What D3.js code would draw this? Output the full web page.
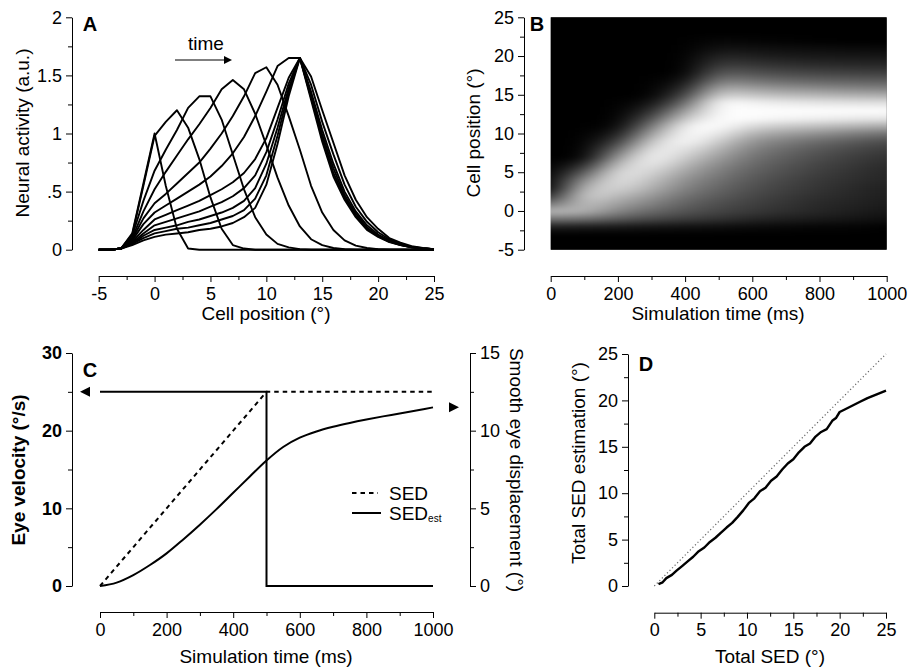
<!DOCTYPE html>
<html>
<head>
<meta charset="utf-8">
<script src="https://cdn.jsdelivr.net/npm/d3@7"></script>
<style>
  body { margin: 0; background: #fff; }
  svg { display: block; font-family: "Liberation Sans", Arial, Helvetica, sans-serif; }
</style>
</head>
<body>
<div id="app"></div>
<script>
// ---- panel A / B data: activity profiles, one per 100 ms snapshot ----
const cellPositions = [-5, -4, -3, -2, -1, 0, 1, 2, 3, 4, 5, 6, 7, 8, 9, 10, 11, 12, 13, 14, 15, 16, 17, 18, 19, 20, 21, 22, 23, 24, 25];
const snapshotTimes = [0, 100, 200, 300, 400, 500, 600, 700, 800, 900, 1000];

const act0 = [0, 0, 0.01, 0.14, 0.57, 1.0, 0.55, 0.18, 0.01, 0, 0, 0, 0, 0, 0, 0, 0, 0, 0, 0, 0, 0, 0, 0, 0, 0, 0, 0, 0, 0, 0];
const act100 = [0, 0, 0.01, 0.13, 0.55, 0.98, 1.1, 1.2, 1.05, 0.78, 0.45, 0.18, 0.04, 0.01, 0, 0, 0, 0, 0, 0, 0, 0, 0, 0, 0, 0, 0, 0, 0, 0, 0];
const act200 = [0, 0, 0.01, 0.12, 0.42, 0.68, 0.86, 1.03, 1.22, 1.32, 1.32, 1.12, 0.82, 0.52, 0.28, 0.13, 0.05, 0.02, 0.005, 0, 0, 0, 0, 0, 0, 0, 0, 0, 0, 0, 0];
const act300 = [0, 0, 0.01, 0.1, 0.33, 0.52, 0.67, 0.81, 0.95, 1.08, 1.22, 1.38, 1.46, 1.38, 1.17, 0.9, 0.62, 0.38, 0.2, 0.09, 0.04, 0.015, 0.005, 0, 0, 0, 0, 0, 0, 0, 0];
const act400 = [0, 0, 0.01, 0.09, 0.27, 0.4, 0.48, 0.57, 0.66, 0.75, 0.87, 1.0, 1.15, 1.32, 1.52, 1.57, 1.42, 1.15, 0.86, 0.55, 0.32, 0.17, 0.08, 0.035, 0.015, 0.005, 0, 0, 0, 0, 0];
const act500 = [0, 0, 0.01, 0.08, 0.22, 0.32, 0.38, 0.44, 0.5, 0.56, 0.63, 0.72, 0.83, 0.97, 1.15, 1.36, 1.58, 1.65, 1.65, 1.49, 1.2, 0.92, 0.64, 0.43, 0.28, 0.18, 0.1, 0.06, 0.03, 0.015, 0.005];
const act600 = [0, 0, 0.01, 0.07, 0.17, 0.26, 0.3, 0.34, 0.38, 0.42, 0.47, 0.52, 0.58, 0.66, 0.78, 0.96, 1.22, 1.48, 1.65, 1.42, 1.1, 0.82, 0.56, 0.37, 0.24, 0.15, 0.09, 0.05, 0.025, 0.012, 0.005];
const act700 = [0, 0, 0.01, 0.06, 0.14, 0.21, 0.24, 0.27, 0.3, 0.33, 0.37, 0.41, 0.46, 0.53, 0.64, 0.84, 1.12, 1.43, 1.65, 1.36, 1.03, 0.74, 0.5, 0.33, 0.21, 0.13, 0.08, 0.045, 0.022, 0.011, 0.004];
const act800 = [0, 0, 0.01, 0.05, 0.12, 0.17, 0.19, 0.21, 0.24, 0.26, 0.29, 0.32, 0.36, 0.42, 0.53, 0.74, 1.05, 1.39, 1.65, 1.33, 0.99, 0.7, 0.47, 0.31, 0.19, 0.12, 0.075, 0.042, 0.021, 0.01, 0.004];
const act900 = [0, 0, 0.01, 0.05, 0.1, 0.14, 0.16, 0.18, 0.19, 0.21, 0.23, 0.26, 0.29, 0.34, 0.44, 0.64, 0.98, 1.36, 1.65, 1.31, 0.96, 0.66, 0.45, 0.29, 0.18, 0.115, 0.07, 0.04, 0.02, 0.01, 0.004];
const act1000 = [0, 0, 0.01, 0.04, 0.08, 0.11, 0.13, 0.14, 0.15, 0.17, 0.18, 0.2, 0.23, 0.28, 0.36, 0.56, 0.91, 1.32, 1.65, 1.29, 0.93, 0.63, 0.43, 0.28, 0.17, 0.11, 0.065, 0.04, 0.02, 0.01, 0.004];
const profiles = [act0, act100, act200, act300, act400, act500, act600, act700, act800, act900, act1000];

// ---- panel C data ----
const velTime = [0, 500, 500, 1000];
const eyeVelocity = [25, 25, 0, 0];
const sedTime = [0, 500, 1000];
const sedTrue = [0, 12.5, 12.5];
const estTime = [0, 50, 100, 150, 200, 250, 300, 350, 400, 450, 500, 550, 600, 650, 700, 750, 800, 850, 900, 950, 1000];
const sedEst = [0, 0.22, 0.7, 1.35, 2.1, 3.0, 3.95, 4.95, 6.0, 7.05, 8.08, 8.95, 9.55, 9.95, 10.25, 10.5, 10.72, 10.92, 11.1, 11.3, 11.5];

// ---- panel D data ----
const totalSed = [0.45, 0.9, 1.3, 1.9, 2.4, 3.0, 3.6, 4.2, 4.8, 5.4, 6.0, 6.6, 7.2, 7.8, 8.4, 9.0, 9.6, 10.2, 10.8, 11.4, 12.0, 12.6, 13.2, 13.8, 14.4, 15.0, 15.6, 16.2, 16.8, 17.4, 18.0, 18.6, 19.2, 19.6, 20.0, 20.6, 21.4, 22.2, 23.0, 24.0, 25.0];
const totalSedEst = [0.2, 0.4, 0.85, 1.2, 1.65, 2.15, 2.65, 3.15, 3.75, 4.15, 4.75, 5.2, 5.75, 6.3, 6.8, 7.45, 8.15, 8.95, 9.45, 10.2, 10.6, 11.35, 11.8, 12.55, 13.2, 13.65, 14.4, 15.0, 15.35, 16.1, 16.6, 16.9, 17.8, 18.1, 18.75, 19.05, 19.45, 19.85, 20.25, 20.65, 21.05];
const identity = [0, 25];

const W = 909, H = 669;
const FONT = 18;
const plain = d => String(d);

const svg = d3.select('#app').append('svg')
    .attr('width', W)
    .attr('height', H)
    .attr('viewBox', [0, 0, W, H]);
const defs = svg.append('defs');

// axis helper: majors with labels, minors without
const drawAxis = (orient, scale, pos, majors, minors, fmt, opts = {}) => {
    const make = { left: d3.axisLeft, right: d3.axisRight, bottom: d3.axisBottom }[orient];
    const transform = orient === 'bottom' ? `translate(0,${pos})` : `translate(${pos},0)`;
    const g = svg.append('g')
        .attr('transform', transform)
        .call(make(scale).tickValues(majors).tickFormat(fmt)
            .tickSize(6).tickSizeOuter(0).tickPadding(opts.pad || 4))
        .attr('font-size', FONT)
        .attr('font-family', null)
        .attr('font-weight', opts.bold ? 'bold' : null);
    g.selectAll('.tick text').attr('fill', '#000');
    g.select('.domain').attr('stroke', '#000');
    svg.append('g')
        .attr('transform', transform)
        .call(make(scale).tickValues(minors).tickFormat('').tickSize(4).tickSizeOuter(0))
        .call(s => s.select('.domain').remove());
    return g;
};

const label = (text, x, y, rotate = 0, opts = {}) => svg.append('text')
    .attr('transform', `translate(${x},${y}) rotate(${rotate})`)
    .attr('text-anchor', opts.anchor || 'middle')
    .attr('dominant-baseline', 'central')
    .attr('font-size', opts.size || FONT + 1)
    .attr('font-weight', opts.bold ? 'bold' : null)
    .text(text);

// ================= Panel A =================
const xA = d3.scaleLinear().domain([-5, 25]).range([98.7, 434]);
const yA = d3.scaleLinear().domain([0, 2]).range([249.7, 17.3]);

drawAxis('left', yA, 72, [0, 0.5, 1, 1.5, 2], [0.25, 0.75, 1.25, 1.75],
    d => d === 0.5 ? '.5' : plain(d));
drawAxis('bottom', xA, 276, [-5, 0, 5, 10, 15, 20, 25], [-2.5, 2.5, 7.5, 12.5, 17.5, 22.5], plain, { pad: 5 });

const lineA = d3.line()
    .x((d, i) => xA(cellPositions[i]))
    .y(d => yA(d));

svg.append('g')
    .selectAll('path')
    .data(profiles)
    .join('path')
    .attr('d', lineA)
    .attr('fill', 'none')
    .attr('stroke', '#000')
    .attr('stroke-width', 1.9)
    .attr('stroke-linejoin', 'round');

// time arrow
defs.html(`
  <marker id="tri" viewBox="0 0 10 10" refX="0" refY="5" markerWidth="9" markerHeight="8" markerUnits="userSpaceOnUse" orient="auto">
    <path d="M0,0 L10,5 L0,10 z" fill="#000"/>
  </marker>
  <filter id="soft" filterUnits="userSpaceOnUse" x="440" y="-40" width="520" height="340" color-interpolation-filters="sRGB">
    <feGaussianBlur stdDeviation="17 3"/>
  </filter>`);
svg.append('line')
    .attr('x1', 175).attr('x2', 224).attr('y1', 60).attr('y2', 60)
    .attr('stroke', '#555').attr('stroke-width', 1.5)
    .attr('marker-end', 'url(#tri)');
label('time', 206, 43, 0, { size: 19 });

label('A', 90, 24, 0, { bold: true, size: 20 });
label('Neural activity (a.u.)', 22, 133, -90);
label('Cell position (°)', 266, 313);

// ================= Panel B =================
const xB = d3.scaleLinear().domain([0, 1000]).range([550.7, 886.7]);
const yB = d3.scaleLinear().domain([-5, 25]).range([249.7, 17.3]);

// the snapshot profiles are the heatmap columns; the first and last columns are
// repeated past the plot edges so the blur does not darken the borders
const tStep = snapshotTimes[1] - snapshotTimes[0];
const pStep = cellPositions[1] - cellPositions[0];
const pad = 3;
const columns = [
    ...d3.range(pad, 0, -1).map(k => ({ t: snapshotTimes[0] - k * tStep, values: profiles[0] })),
    ...profiles.map((values, i) => ({ t: snapshotTimes[i], values })),
    ...d3.range(1, pad + 1).map(k => ({ t: snapshotTimes[snapshotTimes.length - 1] + k * tStep, values: profiles[profiles.length - 1] })),
];
const cells = columns.flatMap(col => col.values.map((v, j) => ({ t: col.t, p: cellPositions[j], v })));
const level = d3.scaleLinear().domain([0.04, 1.5]).range([0, 1]).clamp(true);
const shade = v => d3.interpolateRgb('#000', '#fff')(Math.pow(level(v), 0.8));

defs.append('clipPath').attr('id', 'clipB')
    .append('rect')
    .attr('x', xB(0)).attr('y', yB(25))
    .attr('width', xB(1000) - xB(0)).attr('height', yB(-5) - yB(25));
const heat = svg.append('g').attr('clip-path', 'url(#clipB)');
heat.append('rect')
    .attr('x', xB(0)).attr('y', yB(25))
    .attr('width', xB(1000) - xB(0)).attr('height', yB(-5) - yB(25))
    .attr('fill', '#000');
heat.append('g')
    .attr('filter', 'url(#soft)')
    .selectAll('rect')
    .data(cells)
    .join('rect')
    .attr('x', d => xB(d.t - tStep / 2))
    .attr('width', xB(tStep) - xB(0) + 0.5)
    .attr('y', d => yB(d.p + pStep / 2))
    .attr('height', yB(0) - yB(pStep) + 0.5)
    .attr('fill', d => shade(d.v));

drawAxis('left', yB, 524, [-5, 0, 5, 10, 15, 20, 25], [-2.5, 2.5, 7.5, 12.5, 17.5, 22.5], plain);
drawAxis('bottom', xB, 276, [0, 200, 400, 600, 800, 1000], [100, 300, 500, 700, 900], plain, { pad: 5 });

label('B', 537, 24, 0, { bold: true, size: 20 });
label('Cell position (°)', 473, 133, -90);
label('Simulation time (ms)', 718, 313);

// ================= Panel C =================
const xC = d3.scaleLinear().domain([0, 1000]).range([100, 433]);
const yCv = d3.scaleLinear().domain([0, 30]).range([586, 353]);
const yCd = d3.scaleLinear().domain([0, 15]).range([586, 353]);

drawAxis('left', yCv, 72, [0, 10, 20, 30], [5, 15, 25], plain, { bold: true });
drawAxis('right', yCd, 470, [0, 5, 10, 15], [2.5, 7.5, 12.5], plain);
drawAxis('bottom', xC, 612, [0, 200, 400, 600, 800, 1000], [100, 300, 500, 700, 900], plain, { pad: 5 });

svg.append('path')
    .datum(eyeVelocity)
    .attr('d', d3.line().x((d, i) => xC(velTime[i])).y(d => yCv(d)))
    .attr('fill', 'none').attr('stroke', '#000').attr('stroke-width', 2);

svg.append('path')
    .datum(sedTrue)
    .attr('d', d3.line().x((d, i) => xC(sedTime[i])).y(d => yCd(d)))
    .attr('fill', 'none').attr('stroke', '#000').attr('stroke-width', 2)
    .attr('stroke-dasharray', '4.5,4');

svg.append('path')
    .datum(sedEst)
    .attr('d', d3.line().curve(d3.curveMonotoneX).x((d, i) => xC(estTime[i])).y(d => yCd(d)))
    .attr('fill', 'none').attr('stroke', '#000').attr('stroke-width', 2);

// axis pointers
const yVelArrow = yCv(eyeVelocity[0]);
svg.append('path')
    .attr('d', `M${xC(0) - 20},${yVelArrow} L${xC(0) - 10},${yVelArrow - 5} L${xC(0) - 10},${yVelArrow + 5} Z`)
    .attr('fill', '#000');
const yEstArrow = yCd(sedEst[sedEst.length - 1]);
svg.append('path')
    .attr('d', `M${xC(1000) + 26},${yEstArrow} L${xC(1000) + 16},${yEstArrow - 5} L${xC(1000) + 16},${yEstArrow + 5} Z`)
    .attr('fill', '#000');

// legend
svg.append('line').attr('x1', 352).attr('x2', 378).attr('y1', 493).attr('y2', 493)
    .attr('stroke', '#000').attr('stroke-width', 2).attr('stroke-dasharray', '4.5,4');
svg.append('line').attr('x1', 352).attr('x2', 381).attr('y1', 513).attr('y2', 513)
    .attr('stroke', '#000').attr('stroke-width', 2);
label('SED', 389, 493, 0, { anchor: 'start' });
const est = label('SED', 389, 513, 0, { anchor: 'start' });
est.append('tspan').attr('font-size', 10).attr('dy', 5).text('est');

label('C', 90, 370, 0, { bold: true, size: 20 });
label('Eye velocity (°/s)', 18, 470, -90, { bold: true });
label('Smooth eye displacement (°)', 516, 470, 90);
label('Simulation time (ms)', 266, 656);

// ================= Panel D =================
const xD = d3.scaleLinear().domain([0, 25]).range([654.3, 886]);
const yD = d3.scaleLinear().domain([0, 25]).range([586, 354]);

drawAxis('left', yD, 628, [0, 5, 10, 15, 20, 25], [2.5, 7.5, 12.5, 17.5, 22.5], plain);
drawAxis('bottom', xD, 612.7, [0, 5, 10, 15, 20, 25], [2.5, 7.5, 12.5, 17.5, 22.5], plain, { pad: 5 });

svg.append('path')
    .datum(identity)
    .attr('d', d3.line().x(d => xD(d)).y(d => yD(d)))
    .attr('stroke', '#666').attr('stroke-width', 1.2)
    .attr('stroke-dasharray', '1.2,2.4');

svg.append('path')
    .datum(totalSedEst)
    .attr('d', d3.line().x((d, i) => xD(totalSed[i])).y(d => yD(d)))
    .attr('fill', 'none').attr('stroke', '#000').attr('stroke-width', 2.4)
    .attr('stroke-linejoin', 'round');

label('D', 646, 364, 0, { bold: true, size: 20 });
label('Total SED estimation (°)', 578, 463, -90);
label('Total SED (°)', 770, 656);
</script>
</body>
</html>
